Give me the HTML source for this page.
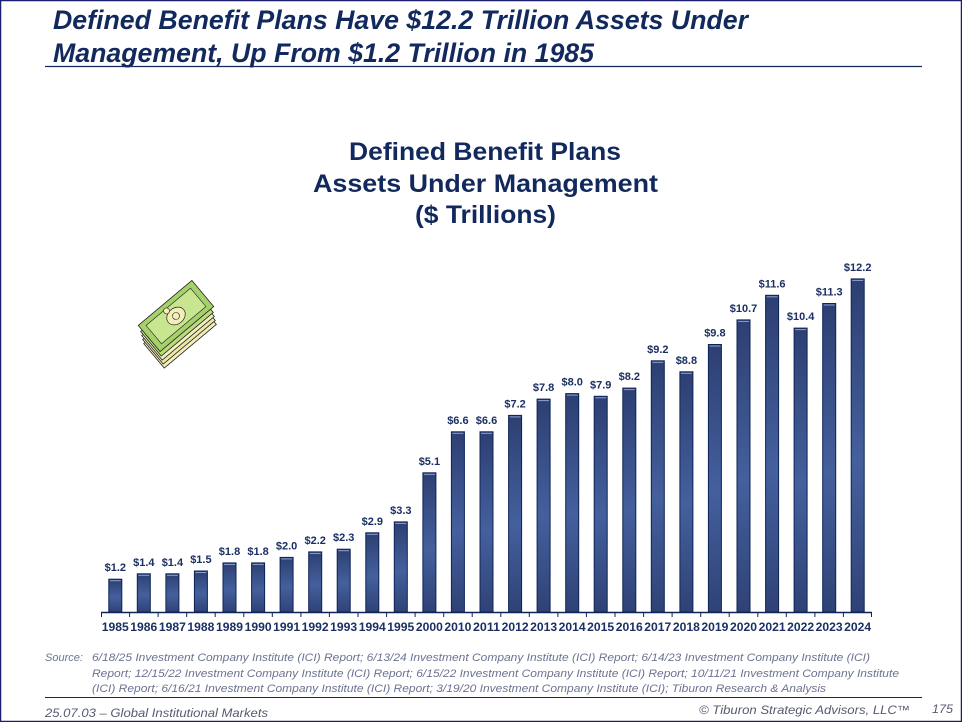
<!DOCTYPE html>
<html><head><meta charset="utf-8"><style>
html,body{margin:0;padding:0;background:#fff;}
svg{display:block;}
text{font-family:"Liberation Sans",Arial,sans-serif;}
</style></head><body>
<svg width="962" height="722" viewBox="0 0 962 722" xmlns="http://www.w3.org/2000/svg">
<defs>
<linearGradient id="bg" x1="0" y1="0" x2="0" y2="1">
<stop offset="0" stop-color="#2d3f72"/>
<stop offset="0.55" stop-color="#44609d"/>
<stop offset="1" stop-color="#2f4276"/>
</linearGradient>
</defs>
<rect x="0.5" y="0.5" width="961" height="721" fill="#fff" stroke="#1c1f6e" stroke-width="1.5"/>

<g fill="#12295e" font-weight="bold" font-style="italic" font-size="26.5">
<text x="53" y="29" textLength="695" lengthAdjust="spacingAndGlyphs">Defined Benefit Plans Have $12.2 Trillion Assets Under</text>
<text x="53" y="62" textLength="541" lengthAdjust="spacingAndGlyphs">Management, Up From $1.2 Trillion in 1985</text>
</g>
<line x1="45" y1="66.5" x2="922" y2="66.5" stroke="#12295e" stroke-width="1.2"/>

<g fill="#12295e" font-weight="bold" font-size="25" text-anchor="middle">
<text x="485" y="160" textLength="272" lengthAdjust="spacingAndGlyphs">Defined Benefit Plans</text>
<text x="485.5" y="192" textLength="345" lengthAdjust="spacingAndGlyphs">Assets Under Management</text>
<text x="485.5" y="223" textLength="141" lengthAdjust="spacingAndGlyphs">($ Trillions)</text>
</g>

<!-- money icon -->
<g stroke="#222" stroke-width="0.8">
<g transform="translate(180,334) rotate(-40)"><rect x="-34" y="-16" width="68" height="32" fill="#f2efb8"/></g>
<g transform="translate(179,330) rotate(-40)"><rect x="-34" y="-16" width="68" height="32" fill="#ece8a8"/></g>
<g transform="translate(178,326) rotate(-40)"><rect x="-34" y="-16" width="68" height="32" fill="#f3f0c0"/></g>
<g transform="translate(177,322) rotate(-40)"><rect x="-34" y="-16" width="68" height="32" fill="#b9dc7a"/></g>
<g transform="translate(176,316) rotate(-40)">
<rect x="-35" y="-17" width="70" height="34" fill="#a6d16a"/>
<rect x="-29" y="-12" width="58" height="24" fill="#c8e690" stroke-width="0.6"/>
<ellipse cx="0" cy="0" rx="10" ry="8" fill="#f3efb8" stroke-width="0.7"/>
<circle cx="0" cy="0" r="3.5" fill="none" stroke-width="0.6"/>
<circle cx="-4" cy="-10" r="3" fill="#f3efb8" stroke-width="0.6"/>
</g>
</g>

<!-- axis -->
<g stroke="#0f2357" stroke-width="1.4">
<line x1="101" y1="612.5" x2="872" y2="612.5"/>
</g>
<g stroke="#0f2357" stroke-width="1">
<line x1="101.5" y1="612" x2="101.5" y2="617"/><line x1="129.6" y1="612" x2="129.6" y2="617"/><line x1="158.1" y1="612" x2="158.1" y2="617"/><line x1="186.7" y1="612" x2="186.7" y2="617"/><line x1="215.2" y1="612" x2="215.2" y2="617"/><line x1="243.8" y1="612" x2="243.8" y2="617"/><line x1="272.3" y1="612" x2="272.3" y2="617"/><line x1="300.9" y1="612" x2="300.9" y2="617"/><line x1="329.4" y1="612" x2="329.4" y2="617"/><line x1="358.0" y1="612" x2="358.0" y2="617"/><line x1="386.6" y1="612" x2="386.6" y2="617"/><line x1="415.1" y1="612" x2="415.1" y2="617"/><line x1="443.7" y1="612" x2="443.7" y2="617"/><line x1="472.2" y1="612" x2="472.2" y2="617"/><line x1="500.8" y1="612" x2="500.8" y2="617"/><line x1="529.3" y1="612" x2="529.3" y2="617"/><line x1="557.9" y1="612" x2="557.9" y2="617"/><line x1="586.4" y1="612" x2="586.4" y2="617"/><line x1="615.0" y1="612" x2="615.0" y2="617"/><line x1="643.6" y1="612" x2="643.6" y2="617"/><line x1="672.1" y1="612" x2="672.1" y2="617"/><line x1="700.7" y1="612" x2="700.7" y2="617"/><line x1="729.2" y1="612" x2="729.2" y2="617"/><line x1="757.8" y1="612" x2="757.8" y2="617"/><line x1="786.3" y1="612" x2="786.3" y2="617"/><line x1="814.9" y1="612" x2="814.9" y2="617"/><line x1="843.4" y1="612" x2="843.4" y2="617"/><line x1="871.5" y1="612" x2="871.5" y2="617"/>
</g>

<!-- bars -->
<g fill="url(#bg)" stroke="#0d2358" stroke-width="1">
<rect x="108.8" y="579.2" width="13" height="32.8"/>
<rect x="137.3" y="573.8" width="13" height="38.2"/>
<rect x="165.9" y="573.8" width="13" height="38.2"/>
<rect x="194.4" y="571.0" width="13" height="41.0"/>
<rect x="223.0" y="562.9" width="13" height="49.1"/>
<rect x="251.6" y="562.9" width="13" height="49.1"/>
<rect x="280.1" y="557.4" width="13" height="54.6"/>
<rect x="308.7" y="551.9" width="13" height="60.1"/>
<rect x="337.2" y="549.2" width="13" height="62.8"/>
<rect x="365.8" y="532.8" width="13" height="79.2"/>
<rect x="394.3" y="521.9" width="13" height="90.1"/>
<rect x="422.9" y="472.8" width="13" height="139.2"/>
<rect x="451.4" y="431.8" width="13" height="180.2"/>
<rect x="480.0" y="431.8" width="13" height="180.2"/>
<rect x="508.6" y="415.4" width="13" height="196.6"/>
<rect x="537.1" y="399.1" width="13" height="212.9"/>
<rect x="565.7" y="393.6" width="13" height="218.4"/>
<rect x="594.2" y="396.3" width="13" height="215.7"/>
<rect x="622.8" y="388.1" width="13" height="223.9"/>
<rect x="651.3" y="360.8" width="13" height="251.2"/>
<rect x="679.9" y="371.8" width="13" height="240.2"/>
<rect x="708.4" y="344.5" width="13" height="267.5"/>
<rect x="737.0" y="319.9" width="13" height="292.1"/>
<rect x="765.6" y="295.3" width="13" height="316.7"/>
<rect x="794.1" y="328.1" width="13" height="283.9"/>
<rect x="822.7" y="303.5" width="13" height="308.5"/>
<rect x="851.2" y="278.9" width="13" height="333.1"/>
</g>
<!-- highlight lines -->
<g stroke="#8fa2cf" stroke-width="1">
<line x1="109.8" y1="580.7" x2="120.8" y2="580.7"/>
<line x1="138.3" y1="575.3" x2="149.3" y2="575.3"/>
<line x1="166.9" y1="575.3" x2="177.9" y2="575.3"/>
<line x1="195.4" y1="572.5" x2="206.4" y2="572.5"/>
<line x1="224.0" y1="564.4" x2="235.0" y2="564.4"/>
<line x1="252.6" y1="564.4" x2="263.6" y2="564.4"/>
<line x1="281.1" y1="558.9" x2="292.1" y2="558.9"/>
<line x1="309.7" y1="553.4" x2="320.7" y2="553.4"/>
<line x1="338.2" y1="550.7" x2="349.2" y2="550.7"/>
<line x1="366.8" y1="534.3" x2="377.8" y2="534.3"/>
<line x1="395.3" y1="523.4" x2="406.3" y2="523.4"/>
<line x1="423.9" y1="474.3" x2="434.9" y2="474.3"/>
<line x1="452.4" y1="433.3" x2="463.4" y2="433.3"/>
<line x1="481.0" y1="433.3" x2="492.0" y2="433.3"/>
<line x1="509.6" y1="416.9" x2="520.6" y2="416.9"/>
<line x1="538.1" y1="400.6" x2="549.1" y2="400.6"/>
<line x1="566.7" y1="395.1" x2="577.7" y2="395.1"/>
<line x1="595.2" y1="397.8" x2="606.2" y2="397.8"/>
<line x1="623.8" y1="389.6" x2="634.8" y2="389.6"/>
<line x1="652.3" y1="362.3" x2="663.3" y2="362.3"/>
<line x1="680.9" y1="373.3" x2="691.9" y2="373.3"/>
<line x1="709.4" y1="346.0" x2="720.4" y2="346.0"/>
<line x1="738.0" y1="321.4" x2="749.0" y2="321.4"/>
<line x1="766.6" y1="296.8" x2="777.6" y2="296.8"/>
<line x1="795.1" y1="329.6" x2="806.1" y2="329.6"/>
<line x1="823.7" y1="305.0" x2="834.7" y2="305.0"/>
<line x1="852.2" y1="280.4" x2="863.2" y2="280.4"/>
</g>

<!-- value labels -->
<g fill="#1b2f62" font-weight="bold" font-size="11" text-anchor="middle">
<text x="115.3" y="571.2">$1.2</text>
<text x="143.8" y="565.8">$1.4</text>
<text x="172.4" y="565.8">$1.4</text>
<text x="200.9" y="563.0">$1.5</text>
<text x="229.5" y="554.9">$1.8</text>
<text x="258.1" y="554.9">$1.8</text>
<text x="286.6" y="549.4">$2.0</text>
<text x="315.2" y="543.9">$2.2</text>
<text x="343.7" y="541.2">$2.3</text>
<text x="372.3" y="524.8">$2.9</text>
<text x="400.8" y="513.9">$3.3</text>
<text x="429.4" y="464.8">$5.1</text>
<text x="457.9" y="423.8">$6.6</text>
<text x="486.5" y="423.8">$6.6</text>
<text x="515.1" y="407.4">$7.2</text>
<text x="543.6" y="391.1">$7.8</text>
<text x="572.2" y="385.6">$8.0</text>
<text x="600.7" y="388.3">$7.9</text>
<text x="629.3" y="380.1">$8.2</text>
<text x="657.8" y="352.8">$9.2</text>
<text x="686.4" y="363.8">$8.8</text>
<text x="714.9" y="336.5">$9.8</text>
<text x="743.5" y="311.9">$10.7</text>
<text x="772.1" y="287.3">$11.6</text>
<text x="800.6" y="320.1">$10.4</text>
<text x="829.2" y="295.5">$11.3</text>
<text x="857.7" y="270.9">$12.2</text>
</g>

<!-- year labels -->
<g fill="#1b2f62" font-weight="bold" font-size="12" text-anchor="middle">
<text x="115.3" y="631" textLength="27" lengthAdjust="spacingAndGlyphs">1985</text>
<text x="143.8" y="631" textLength="27" lengthAdjust="spacingAndGlyphs">1986</text>
<text x="172.4" y="631" textLength="27" lengthAdjust="spacingAndGlyphs">1987</text>
<text x="200.9" y="631" textLength="27" lengthAdjust="spacingAndGlyphs">1988</text>
<text x="229.5" y="631" textLength="27" lengthAdjust="spacingAndGlyphs">1989</text>
<text x="258.1" y="631" textLength="27" lengthAdjust="spacingAndGlyphs">1990</text>
<text x="286.6" y="631" textLength="27" lengthAdjust="spacingAndGlyphs">1991</text>
<text x="315.2" y="631" textLength="27" lengthAdjust="spacingAndGlyphs">1992</text>
<text x="343.7" y="631" textLength="27" lengthAdjust="spacingAndGlyphs">1993</text>
<text x="372.3" y="631" textLength="27" lengthAdjust="spacingAndGlyphs">1994</text>
<text x="400.8" y="631" textLength="27" lengthAdjust="spacingAndGlyphs">1995</text>
<text x="429.4" y="631" textLength="27" lengthAdjust="spacingAndGlyphs">2000</text>
<text x="457.9" y="631" textLength="27" lengthAdjust="spacingAndGlyphs">2010</text>
<text x="486.5" y="631" textLength="27" lengthAdjust="spacingAndGlyphs">2011</text>
<text x="515.1" y="631" textLength="27" lengthAdjust="spacingAndGlyphs">2012</text>
<text x="543.6" y="631" textLength="27" lengthAdjust="spacingAndGlyphs">2013</text>
<text x="572.2" y="631" textLength="27" lengthAdjust="spacingAndGlyphs">2014</text>
<text x="600.7" y="631" textLength="27" lengthAdjust="spacingAndGlyphs">2015</text>
<text x="629.3" y="631" textLength="27" lengthAdjust="spacingAndGlyphs">2016</text>
<text x="657.8" y="631" textLength="27" lengthAdjust="spacingAndGlyphs">2017</text>
<text x="686.4" y="631" textLength="27" lengthAdjust="spacingAndGlyphs">2018</text>
<text x="714.9" y="631" textLength="27" lengthAdjust="spacingAndGlyphs">2019</text>
<text x="743.5" y="631" textLength="27" lengthAdjust="spacingAndGlyphs">2020</text>
<text x="772.1" y="631" textLength="27" lengthAdjust="spacingAndGlyphs">2021</text>
<text x="800.6" y="631" textLength="27" lengthAdjust="spacingAndGlyphs">2022</text>
<text x="829.2" y="631" textLength="27" lengthAdjust="spacingAndGlyphs">2023</text>
<text x="857.7" y="631" textLength="27" lengthAdjust="spacingAndGlyphs">2024</text>
</g>

<!-- source -->
<g fill="#6c7391" font-style="italic" font-size="11">
<text x="45" y="661" textLength="38" lengthAdjust="spacingAndGlyphs">Source:</text>
<text x="92" y="661" textLength="778" lengthAdjust="spacingAndGlyphs">6/18/25 Investment Company Institute (ICI) Report; 6/13/24 Investment Company Institute (ICI) Report; 6/14/23 Investment Company Institute (ICI)</text>
<text x="92" y="677" textLength="807" lengthAdjust="spacingAndGlyphs">Report; 12/15/22 Investment Company Institute (ICI) Report; 6/15/22 Investment Company Institute (ICI) Report; 10/11/21 Investment Company Institute</text>
<text x="92" y="692" textLength="734" lengthAdjust="spacingAndGlyphs">(ICI) Report; 6/16/21 Investment Company Institute (ICI) Report; 3/19/20 Investment Company Institute (ICI); Tiburon Research &amp; Analysis</text>
</g>

<line x1="45" y1="697.5" x2="922" y2="697.5" stroke="#12295e" stroke-width="1"/>

<g fill="#555b70" font-style="italic" font-size="12">
<text x="45" y="717" textLength="223" lengthAdjust="spacingAndGlyphs">25.07.03 – Global Institutional Markets</text>
<text x="699" y="714" textLength="211" lengthAdjust="spacingAndGlyphs">© Tiburon Strategic Advisors, LLC™</text>
<text x="932" y="713" textLength="21" lengthAdjust="spacingAndGlyphs">175</text>
</g>
</svg>
</body></html>
